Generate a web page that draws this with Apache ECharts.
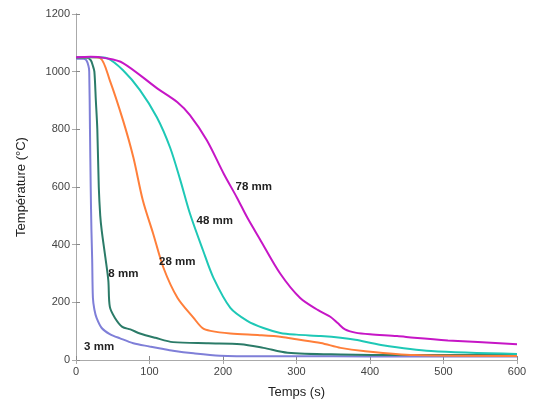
<!DOCTYPE html>
<html><head><meta charset="utf-8">
<script src="https://cdn.jsdelivr.net/npm/echarts@6/dist/echarts.min.js"></script>
<style>html,body{margin:0;padding:0;background:#fff}#c{width:533px;height:405px}</style>
</head><body><div id="c"></div>
<script>
var seriesNames = ['3 mm', '8 mm', '28 mm', '48 mm', '78 mm'];
var xTicks = [0, 100, 200, 300, 400, 500, 600];
var yTicks = [0, 200, 400, 600, 800, 1000, 1200];

var s3 = [[0,1045],[10,1045],[14,1040],[17,1020],[18,1000],[19,800],[20,600],[21,450],[22,350],[23,216],[25,175],[28,146],[35,111],[46,90],[60,75],[78,58],[100,47],[115,40],[132,32],[160,23],[196,15],[250,13],[350,13],[450,12],[600,12]];
var s8 = [[0,1048],[15,1048],[20,1040],[23,1020],[25,1000],[27,900],[29,800],[31,600],[33,500],[35,449],[40,355],[44,275],[46,185],[53,146],[63,115],[74,106],[87,92],[108,77],[132,62],[180,58],[224,55],[255,42],[288,25],[360,19],[450,17],[600,17]];
var s28 = [[0,1050],[20,1050],[33,1047],[46,970],[64,831],[78,703],[91,553],[105,438],[119,320],[138,216],[160,146],[172,111],[183,101],[210,92],[250,86],[280,80],[300,72],[333,59],[360,42],[391,31],[460,17],[600,14]];
var s48 = [[0,1050],[30,1050],[42,1047],[64,1005],[87,936],[110,842],[128,737],[142,623],[155,508],[173,379],[187,285],[210,181],[233,136],[255,111],[278,94],[300,88],[333,83],[360,77],[380,70],[415,52],[483,31],[600,21]];
var s78 = [[0,1050],[20,1052],[40,1047],[64,1030],[110,943],[138,894],[155,849],[178,762],[201,646],[219,563],[233,494],[250,420],[278,299],[305,215],[330,172],[346,150],[356,128],[366,106],[380,95],[400,89],[437,83],[460,77],[506,68],[600,55]];
var curveLabelPos = [[11,45],[44,299],[113,341],[164,483],[217,602]];

var colors = ['#7f7fd8', '#2b7b68', '#ff7f3a', '#1ec8b6', '#c616c6'];
var allData = [s3, s8, s28, s48, s78];

var chart = echarts.init(document.getElementById('c'));
var font = 'Liberation Sans, Arial, sans-serif';
var series = allData.map(function (d, i) {
  return {
    name: seriesNames[i], type: 'line', data: d, showSymbol: false,
    smooth: 0.3,
    lineStyle: { color: colors[i], width: 2 }, itemStyle: { color: colors[i] },
    markPoint: {
      symbol: 'circle', symbolSize: 0, silent: true,
      data: [{ coord: curveLabelPos[i] }],
      label: { show: true, formatter: seriesNames[i], position: 'right', distance: 0,
        color: '#222', fontSize: 11.5, fontWeight: 'bold', fontFamily: font }
    }
  };
});
function plain(v) { return String(v); }
chart.setOption({
  animation: false,
  grid: { left: 76, right: 16, top: 14, bottom: 45 },
  xAxis: [{
    type: 'value', min: 0, max: 600, interval: 100,
    name: 'Temps (s)', nameLocation: 'middle', nameGap: 26,
    nameTextStyle: { fontSize: 13, color: '#222', fontFamily: font },
    axisLine: { show: true, lineStyle: { color: '#888' } },
    axisTick: { show: true, inside: true, length: 4, lineStyle: { color: '#888' } },
    axisLabel: { color: '#444', fontSize: 11, fontFamily: font, margin: 6, formatter: plain },
    splitLine: { show: false }
  }, {
    type: 'value', position: 'top', min: 0, max: 600, interval: 100,
    axisLine: { show: true, lineStyle: { color: '#aaa' } },
    axisTick: { show: true, inside: true, length: 4, lineStyle: { color: '#aaa' } },
    axisLabel: { show: false }, splitLine: { show: false }
  }],
  yAxis: [{
    type: 'value', min: 0, max: 1200, interval: 200,
    name: 'Température (°C)', nameLocation: 'middle', nameGap: 48, nameRotate: 90,
    nameTextStyle: { fontSize: 13, color: '#222', fontFamily: font },
    axisLine: { show: true, lineStyle: { color: '#888' } },
    axisTick: { show: true, inside: true, length: 4, lineStyle: { color: '#888' } },
    axisLabel: { color: '#444', fontSize: 11, fontFamily: font, margin: 6, formatter: plain },
    splitLine: { show: false }
  }, {
    type: 'value', position: 'right', min: 0, max: 1200, interval: 200,
    axisLine: { show: true, lineStyle: { color: '#aaa' } },
    axisTick: { show: true, inside: true, length: 4, lineStyle: { color: '#aaa' } },
    axisLabel: { show: false }, splitLine: { show: false }
  }],
  series: series
});
</script></body></html>
